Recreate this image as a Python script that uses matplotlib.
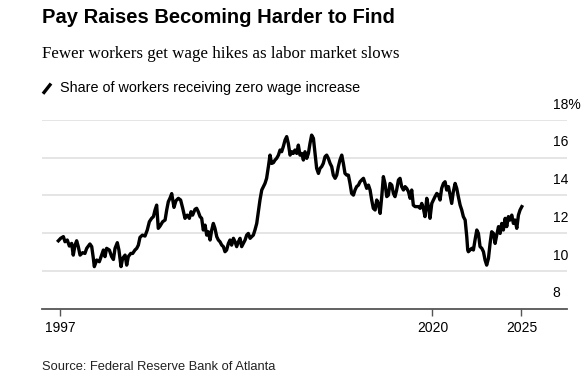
import matplotlib
matplotlib.use('Agg')
import matplotlib.pyplot as plt
from matplotlib.lines import Line2D

# share of workers receiving zero wage increase (%)
years = [1996.90, 1997.04, 1997.21, 1997.31, 1997.45, 1997.58, 1997.72, 1997.82, 1997.93, 1998.03,
         1998.13, 1998.24, 1998.40, 1998.54, 1998.65, 1998.85, 1998.96, 1999.06, 1999.12, 1999.27,
         1999.43, 1999.57, 1999.68, 1999.78, 1999.88, 2000.05, 2000.19, 2000.30, 2000.40, 2000.54,
         2000.64, 2000.77, 2000.87, 2001.02, 2001.12, 2001.22, 2001.37, 2001.49, 2001.63, 2001.74,
         2001.84, 2001.94, 2002.09, 2002.25, 2002.39, 2002.52, 2002.66, 2002.77, 2002.87, 2002.97,
         2003.07, 2003.18, 2003.34, 2003.49, 2003.59, 2003.69, 2003.79, 2003.90,
         2004.04, 2004.16, 2004.31, 2004.45, 2004.58, 2004.72, 2004.86, 2004.99, 2005.09, 2005.19,
         2005.34, 2005.44, 2005.54, 2005.65, 2005.75, 2005.85, 2005.96, 2006.06, 2006.16, 2006.27,
         2006.37, 2006.47, 2006.57, 2006.68, 2006.78, 2006.88, 2006.99, 2007.09, 2007.19, 2007.29,
         2007.40, 2007.50, 2007.60, 2007.71, 2007.81, 2007.91, 2008.02, 2008.12, 2008.22, 2008.32,
         2008.43, 2008.53, 2008.63, 2008.74, 2008.84, 2008.94, 2009.04, 2009.15, 2009.25, 2009.35,
         2009.46, 2009.56, 2009.66, 2009.76, 2009.87, 2009.97, 2010.07, 2010.18, 2010.28, 2010.38,
         2010.49, 2010.59, 2010.69, 2010.79, 2010.90, 2011.00, 2011.10, 2011.21, 2011.31, 2011.41,
         2011.51, 2011.62, 2011.72, 2011.82,
         2011.93, 2012.03, 2012.13, 2012.24, 2012.34, 2012.44, 2012.54, 2012.65, 2012.75, 2012.85,
         2012.96, 2013.06, 2013.16, 2013.26, 2013.37, 2013.47, 2013.57, 2013.68, 2013.78, 2013.88,
         2013.99, 2014.09, 2014.19, 2014.29, 2014.40, 2014.50, 2014.60, 2014.71, 2014.81, 2014.91,
         2015.01, 2015.12, 2015.22, 2015.32, 2015.43, 2015.53, 2015.63, 2015.74, 2015.84, 2015.94,
         2016.05, 2016.15, 2016.25, 2016.35, 2016.46, 2016.56, 2016.66, 2016.77, 2016.87, 2016.97,
         2017.07, 2017.18, 2017.28, 2017.38, 2017.49, 2017.59, 2017.69, 2017.79, 2017.90, 2018.00,
         2018.10, 2018.21, 2018.31, 2018.41, 2018.52, 2018.62, 2018.72, 2018.82, 2018.93, 2019.03,
         2019.13, 2019.24, 2019.34, 2019.44, 2019.54, 2019.65, 2019.75, 2019.85, 2019.96, 2020.06,
         2020.16, 2020.27, 2020.37, 2020.47, 2020.57, 2020.68, 2020.78, 2020.88, 2020.99, 2021.09,
         2021.19, 2021.29, 2021.40, 2021.50, 2021.60, 2021.71, 2021.81, 2021.91, 2022.02, 2022.12,
         2022.18, 2022.22, 2022.32, 2022.43, 2022.53, 2022.63, 2022.74, 2022.84, 2022.94, 2023.05,
         2023.15, 2023.25, 2023.35, 2023.46, 2023.56, 2023.66, 2023.77, 2023.87, 2023.97, 2024.08,
         2024.18, 2024.28, 2024.38, 2024.49, 2024.59, 2024.69, 2024.79, 2024.90, 2025.00, 2025.10,
         2025.21, 2025.31, 2025.41, 2025.52]

share = [11.60, 11.73, 11.82, 11.55, 11.64, 11.32, 11.46, 10.84, 11.37, 11.60,
         11.29, 10.84, 10.97, 10.93, 11.20, 11.43, 11.29, 10.67, 10.23, 10.58,
         10.49, 10.84, 11.11, 10.76, 11.20, 11.11, 10.76, 10.61, 11.20, 11.50,
         11.11, 10.23, 10.67, 10.84, 10.31, 10.76, 10.93, 10.93, 11.11, 11.20,
         11.37, 11.78, 11.90, 11.85, 12.17, 12.61, 12.79, 12.88, 13.23, 13.49,
         12.26, 12.38, 12.61, 12.70, 13.23, 13.67, 13.85, 14.10,
         13.37, 13.72, 13.85, 13.76, 13.32, 12.79, 12.96, 12.79, 13.14, 12.96,
         13.27, 13.32, 13.14, 12.88, 12.79, 12.17, 12.43, 11.90, 12.08, 11.64,
         12.17, 12.52, 12.26, 11.82, 11.64, 11.55, 11.37, 11.29, 11.02, 11.11,
         11.46, 11.64, 11.37, 11.73, 11.55, 11.29, 11.55, 11.73, 11.29, 11.46,
         11.64, 11.90, 11.99, 11.73, 11.82, 11.90, 12.17, 12.52, 13.14, 13.76,
         14.29, 14.47, 14.64, 14.91, 15.53, 16.14, 15.70, 15.74, 15.88, 15.97,
         16.14, 16.41, 16.32, 16.59, 16.94, 17.12, 16.76, 16.14, 16.32, 16.23,
         16.41, 16.23, 16.67, 16.14,
         16.23, 15.88, 16.32, 15.97, 16.23, 16.76, 17.20, 17.03, 16.23, 15.44,
         15.17, 15.44, 15.53, 15.70, 16.06, 16.14, 15.97, 15.70, 15.53, 15.08,
         14.91, 15.08, 15.53, 15.88, 16.14, 15.70, 15.17, 15.08, 15.08, 14.64,
         14.11, 14.02, 14.29, 14.47, 14.55, 14.73, 14.82, 14.91, 14.64, 14.38,
         14.55, 14.29, 13.76, 13.32, 13.23, 13.76, 13.58, 13.05, 13.94, 15.00,
         14.64, 13.94, 14.02, 14.64, 14.55, 14.11, 13.94, 14.29, 14.82, 14.91,
         14.47, 14.29, 14.47, 14.38, 14.20, 13.85, 14.29, 13.49, 13.41, 13.41,
         13.41, 13.32, 13.58, 13.32, 12.88, 13.85, 13.41, 12.79, 13.58, 13.76,
         13.94, 14.11, 14.02, 13.76, 14.38, 14.64, 14.73, 14.29, 14.47, 14.02,
         13.58, 14.20, 14.64, 14.38, 13.94, 13.49, 13.23, 12.88, 12.70, 11.82,
         11.11, 11.02, 11.11, 11.20, 11.11, 11.64, 12.17, 11.99, 11.29, 11.20,
         11.02, 10.58, 10.31, 10.67, 11.46, 12.08, 11.99, 11.46, 11.90, 12.35,
         11.99, 12.52, 12.17, 12.79, 12.35, 12.88, 12.70, 12.96, 12.52, 12.70,
         12.26, 12.96, 13.23, 13.41]

y_ticks = [8, 10, 12, 14, 16, 18]
y_labels = ['8', '10', '12', '14', '16', '18%']
x_ticks = [1997.0, 2020.0, 2025.5]
x_labels = ['1997', '2020', '2025']

plt.rcParams['font.family'] = ['Liberation Sans', 'DejaVu Sans']

fig = plt.figure(figsize=(5.85, 3.78), dpi=100)
ax = fig.add_axes([0.0718, 0.1833, 0.8966, 0.4992])

for v in y_ticks[1:]:
    ax.axhline(v, color='#e3e3e3', lw=1.3, zorder=1)
ax.plot(years, share, color='black', lw=2.4, solid_joinstyle='round', zorder=3)

ax.set_xlim(1995.89, 2028.28)
ax.set_ylim(8, 18)

for s in ['top', 'right', 'left']:
    ax.spines[s].set_visible(False)
ax.spines['bottom'].set_color('#555555')
ax.spines['bottom'].set_linewidth(1.3)

ax.set_xticks(x_ticks)
ax.set_xticklabels(x_labels, fontsize=10)
ax.tick_params(axis='x', length=5, width=1, color='#555555', pad=4)
ax.set_yticks([])

# y labels sit above the gridlines at the right edge
for v, lab in zip(y_ticks, y_labels):
    ax.annotate(lab, xy=(2025.5, v), xycoords='data', xytext=(22.5, 6),
                textcoords='offset points', fontsize=10, ha='left', va='bottom')

fig.text(0.0718, 0.953, 'Pay Raises Becoming Harder to Find', fontsize=14.5,
         fontweight='bold', ha='left', va='center')
fig.text(0.0718, 0.857, 'Fewer workers get wage hikes as labor market slows',
         fontsize=12.2, family='Liberation Serif', ha='left', va='center')
fig.add_artist(Line2D([0.0735, 0.0872], [0.752, 0.779], transform=fig.transFigure,
                      color='black', lw=2.4, solid_capstyle='butt'))
fig.text(0.1026, 0.767, 'Share of workers receiving zero wage increase', fontsize=10.4,
         ha='left', va='center')
fig.text(0.0718, 0.030, 'Source: Federal Reserve Bank of Atlanta', fontsize=9.3,
         color='#222222', ha='left', va='center')

fig.savefig('out.png', dpi=100)
